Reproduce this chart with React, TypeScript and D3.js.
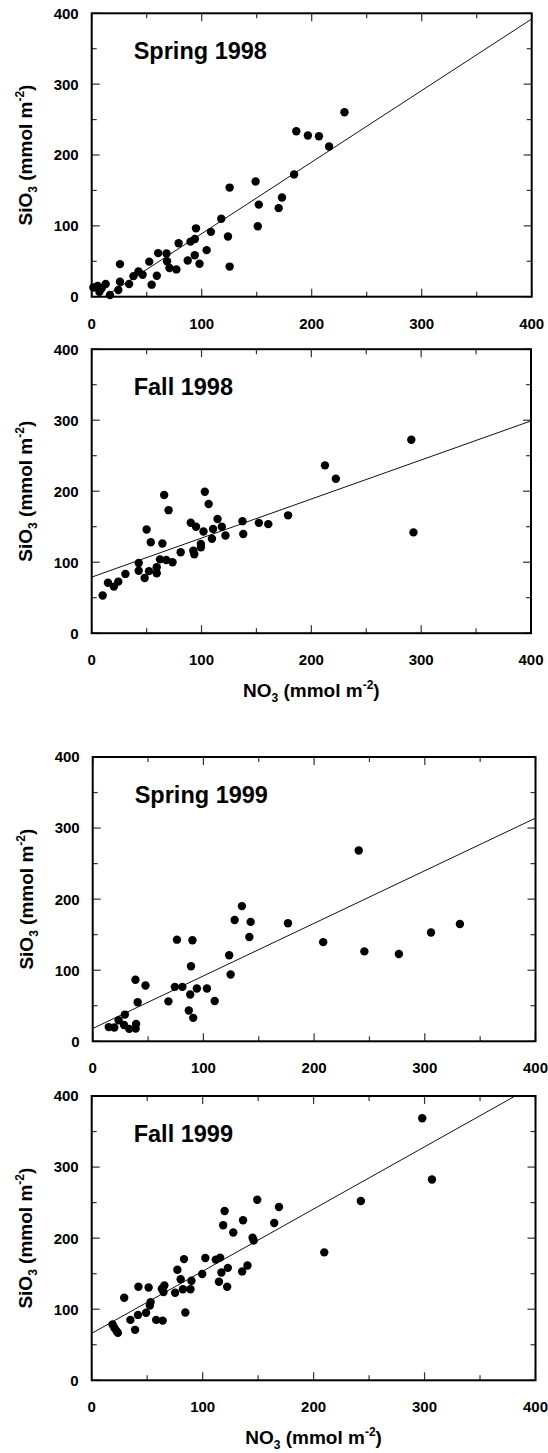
import React from "react";
import * as d3 from "d3";

// NO3 vs SiO3 (mmol m-2)
const spring1998 = [
  [1.5, 13], [5.4, 15], [7, 7], [9, 12], [12.7, 18], [16.6, 2.4], [24.2, 9.4], [25.7, 21], [25.7, 46],
  [34, 18], [38, 29], [42.5, 35.5], [46.3, 31], [52.3, 49.5], [54.5, 17], [59.2, 29.5], [60.4, 61.5],
  [68, 61], [68.5, 50], [70.7, 40.5], [77, 38.5], [79, 75.5], [87.3, 51], [89.8, 77.7], [93.8, 81.5],
  [94.8, 96.5], [93.7, 58.6], [98, 46.5], [104.5, 65.7], [108.4, 91.5], [117.8, 110], [123.9, 85],
  [125.4, 154], [125.4, 42.5], [149, 162.7], [151, 99.4], [151.9, 130], [170, 125], [173, 140],
  [184, 172.6], [186, 233.6], [196.5, 227.5], [206.6, 226.5], [215.8, 212], [229.8, 260.3],
];

const fall1998 = [
  [10, 53], [14.8, 71], [20.2, 65.6], [24.2, 72.6], [30.7, 83.5], [42.8, 99], [42.8, 88], [48.2, 77.7],
  [50, 146], [53.8, 128], [52.2, 87.4], [59.2, 92.8], [59.2, 84.4], [62.2, 104], [64.4, 126.4],
  [66, 194.6], [67.9, 103], [70, 173.3], [73.6, 100], [81, 114], [90.2, 155.6], [95, 150], [92.5, 116.2],
  [93.4, 111.2], [99.4, 121], [99.4, 125.7], [101.8, 143.3], [103, 199.2], [106.5, 182], [109.5, 133],
  [110.5, 146.8], [114.6, 160.9], [118.5, 150], [121.8, 137.6], [137.3, 157.8], [138, 139.7],
  [152.2, 155.4], [160.8, 153.6], [178.8, 166], [212.4, 236.4], [222.3, 217.6], [291, 272.5], [293, 142],
];

const spring1999 = [
  [14.5, 20], [19.5, 19.5], [23.4, 29.7], [29.1, 37.6], [28.3, 23], [33, 17.5], [39.2, 24.5], [38.8, 17.8],
  [38.6, 86.6], [40.6, 55], [47.7, 78.5], [68.4, 56.2], [74.2, 76.6], [76.1, 143], [81, 76.6], [86.8, 43.4],
  [88.8, 105.6], [88.1, 65.8], [90.1, 142.2], [90.8, 33], [94.1, 74.2], [103.2, 74.2], [110.2, 56.8],
  [123.3, 121], [124.6, 94], [128.2, 170.7], [134.8, 190.2], [141.5, 146.8], [142.7, 168], [176.4, 166],
  [208.2, 139.5], [240.3, 268.4], [245.4, 126.5], [276.6, 122.8], [305.6, 153], [331.7, 165],
];

const fall1999 = [
  [18.8, 78.5], [20.4, 74], [22.4, 69.4], [23.6, 66.7], [29.3, 116.2], [34.9, 85], [39.1, 71], [42.1, 131.7],
  [41.7, 92], [49, 95], [51.3, 130.5], [52.4, 105.3], [53.1, 110], [58.1, 85], [64, 84], [63.2, 128.8],
  [65.5, 133.5], [64.7, 124.2], [75.2, 123.2], [77.2, 155.5], [80.2, 142.2], [82.2, 128], [83.2, 170.5],
  [84.4, 95.3], [89, 128], [89.9, 140.1], [99.6, 149.6], [102.4, 172], [111.8, 169.8], [115.8, 172.6],
  [114.7, 138.7], [116.9, 151.6], [118.5, 218.1], [119.8, 238.1], [122.7, 158.2], [122.1, 131.7],
  [127.6, 208], [135.6, 153.2], [136.4, 225.1], [140.4, 161.6], [145, 200.5], [146, 196.6], [149.2, 254],
  [164.5, 221.4], [168.8, 243.8], [209.6, 180], [242.6, 252.2], [297.9, 368.8], [306.7, 282.5],
];

// regression lines: [intercept, slope]
const spring1998Fit = [-12, 1.01];
const fall1998Fit = [79, 0.55];
const spring1999Fit = [18, 0.74];
const fall1999Fit = [66, 0.875];

const majorTicks = [0, 100, 200, 300, 400];
const minorTicks = [50, 150, 250, 350];
const panelTitles = ["Spring 1998", "Fall 1998", "Spring 1999", "Fall 1999"];

const FONT = "'Liberation Sans', Arial, Helvetica, sans-serif";

const panels = [
  { data: spring1998, fit: spring1998Fit, left: 91.7, right: 531.7, top: 13.3, bottom: 296.7, xTitle: false },
  { data: fall1998, fit: fall1998Fit, left: 91.7, right: 531, top: 349.2, bottom: 633.2, xTitle: true },
  { data: spring1999, fit: spring1999Fit, left: 92.7, right: 535.5, top: 757, bottom: 1041.3, xTitle: false },
  { data: fall1999, fit: fall1999Fit, left: 91.7, right: 535.5, top: 1096, bottom: 1380.3, xTitle: true },
];

function Panel({ p, title, idx }) {
  const x = d3.scaleLinear().domain([0, 400]).range([p.left, p.right]);
  const y = d3.scaleLinear().domain([0, 400]).range([p.bottom, p.top]);
  const [b0, b1] = p.fit;
  const line = d3.line().x(d => x(d[0])).y(d => y(d[1]));
  const fitPts = [[0, b0], [400, b0 + b1 * 400]];
  const clipId = `clip-${idx}`;
  const midY = (p.top + p.bottom) / 2;
  const tick = (v, len) => [
    <line key={`b${v}`} x1={x(v)} x2={x(v)} y1={p.bottom} y2={p.bottom - len} />,
    <line key={`t${v}`} x1={x(v)} x2={x(v)} y1={p.top} y2={p.top + len} />,
    <line key={`l${v}`} x1={p.left} x2={p.left + len} y1={y(v)} y2={y(v)} />,
    <line key={`r${v}`} x1={p.right} x2={p.right - len} y1={y(v)} y2={y(v)} />,
  ];
  return (
    <g>
      <defs>
        <clipPath id={clipId}>
          <rect x={p.left} y={p.top} width={p.right - p.left} height={p.bottom - p.top} />
        </clipPath>
      </defs>
      <g stroke="#333" strokeWidth={1.2}>
        {majorTicks.map(v => tick(v, 8))}
        {minorTicks.map(v => tick(v, 5))}
      </g>
      <path d={line(fitPts)} fill="none" stroke="#111" strokeWidth={1} clipPath={`url(#${clipId})`} />
      {p.data.map((d, i) => (
        <circle key={i} cx={x(d[0])} cy={y(d[1])} r={4.2} fill="#000" />
      ))}
      <rect x={p.left} y={p.top} width={p.right - p.left} height={p.bottom - p.top}
        fill="none" stroke="#000" strokeWidth={2} />
      <g fontFamily={FONT} fontWeight="bold" fontSize={15} fill="#000">
        {majorTicks.map(v => (
          <text key={`yl${v}`} x={p.left - 13} y={y(v) + 5.4} textAnchor="end">{v}</text>
        ))}
        {majorTicks.map(v => (
          <text key={`xl${v}`} x={x(v)} y={p.bottom + 32} textAnchor="middle">{v}</text>
        ))}
      </g>
      <text x={p.left + 42} y={p.top + 46} fontFamily={FONT} fontWeight="bold" fontSize={23.5}>{title}</text>
      <text transform={`translate(${p.left - 60},${midY}) rotate(-90)`} textAnchor="middle"
        fontFamily={FONT} fontWeight="bold" fontSize={19}>
        SiO<tspan fontSize={12} dy={5}>3</tspan>
        <tspan dy={-5}> (mmol m</tspan>
        <tspan fontSize={12} dy={-8}>-2</tspan>
        <tspan dy={8}>)</tspan>
      </text>
      {p.xTitle && (
        <text x={(p.left + p.right) / 2} y={p.bottom + 64} textAnchor="middle"
          fontFamily={FONT} fontWeight="bold" fontSize={19}>
          NO<tspan fontSize={12} dy={5}>3</tspan>
          <tspan dy={-5}> (mmol m</tspan>
          <tspan fontSize={12} dy={-8}>-2</tspan>
          <tspan dy={8}>)</tspan>
        </text>
      )}
    </g>
  );
}

export default function App() {
  return (
    <svg width={548} height={1453} style={{ position: "absolute", left: 0, top: 0, background: "#fff" }}>
      {panels.map((p, i) => (
        <Panel key={i} p={p} title={panelTitles[i]} idx={i} />
      ))}
    </svg>
  );
}
